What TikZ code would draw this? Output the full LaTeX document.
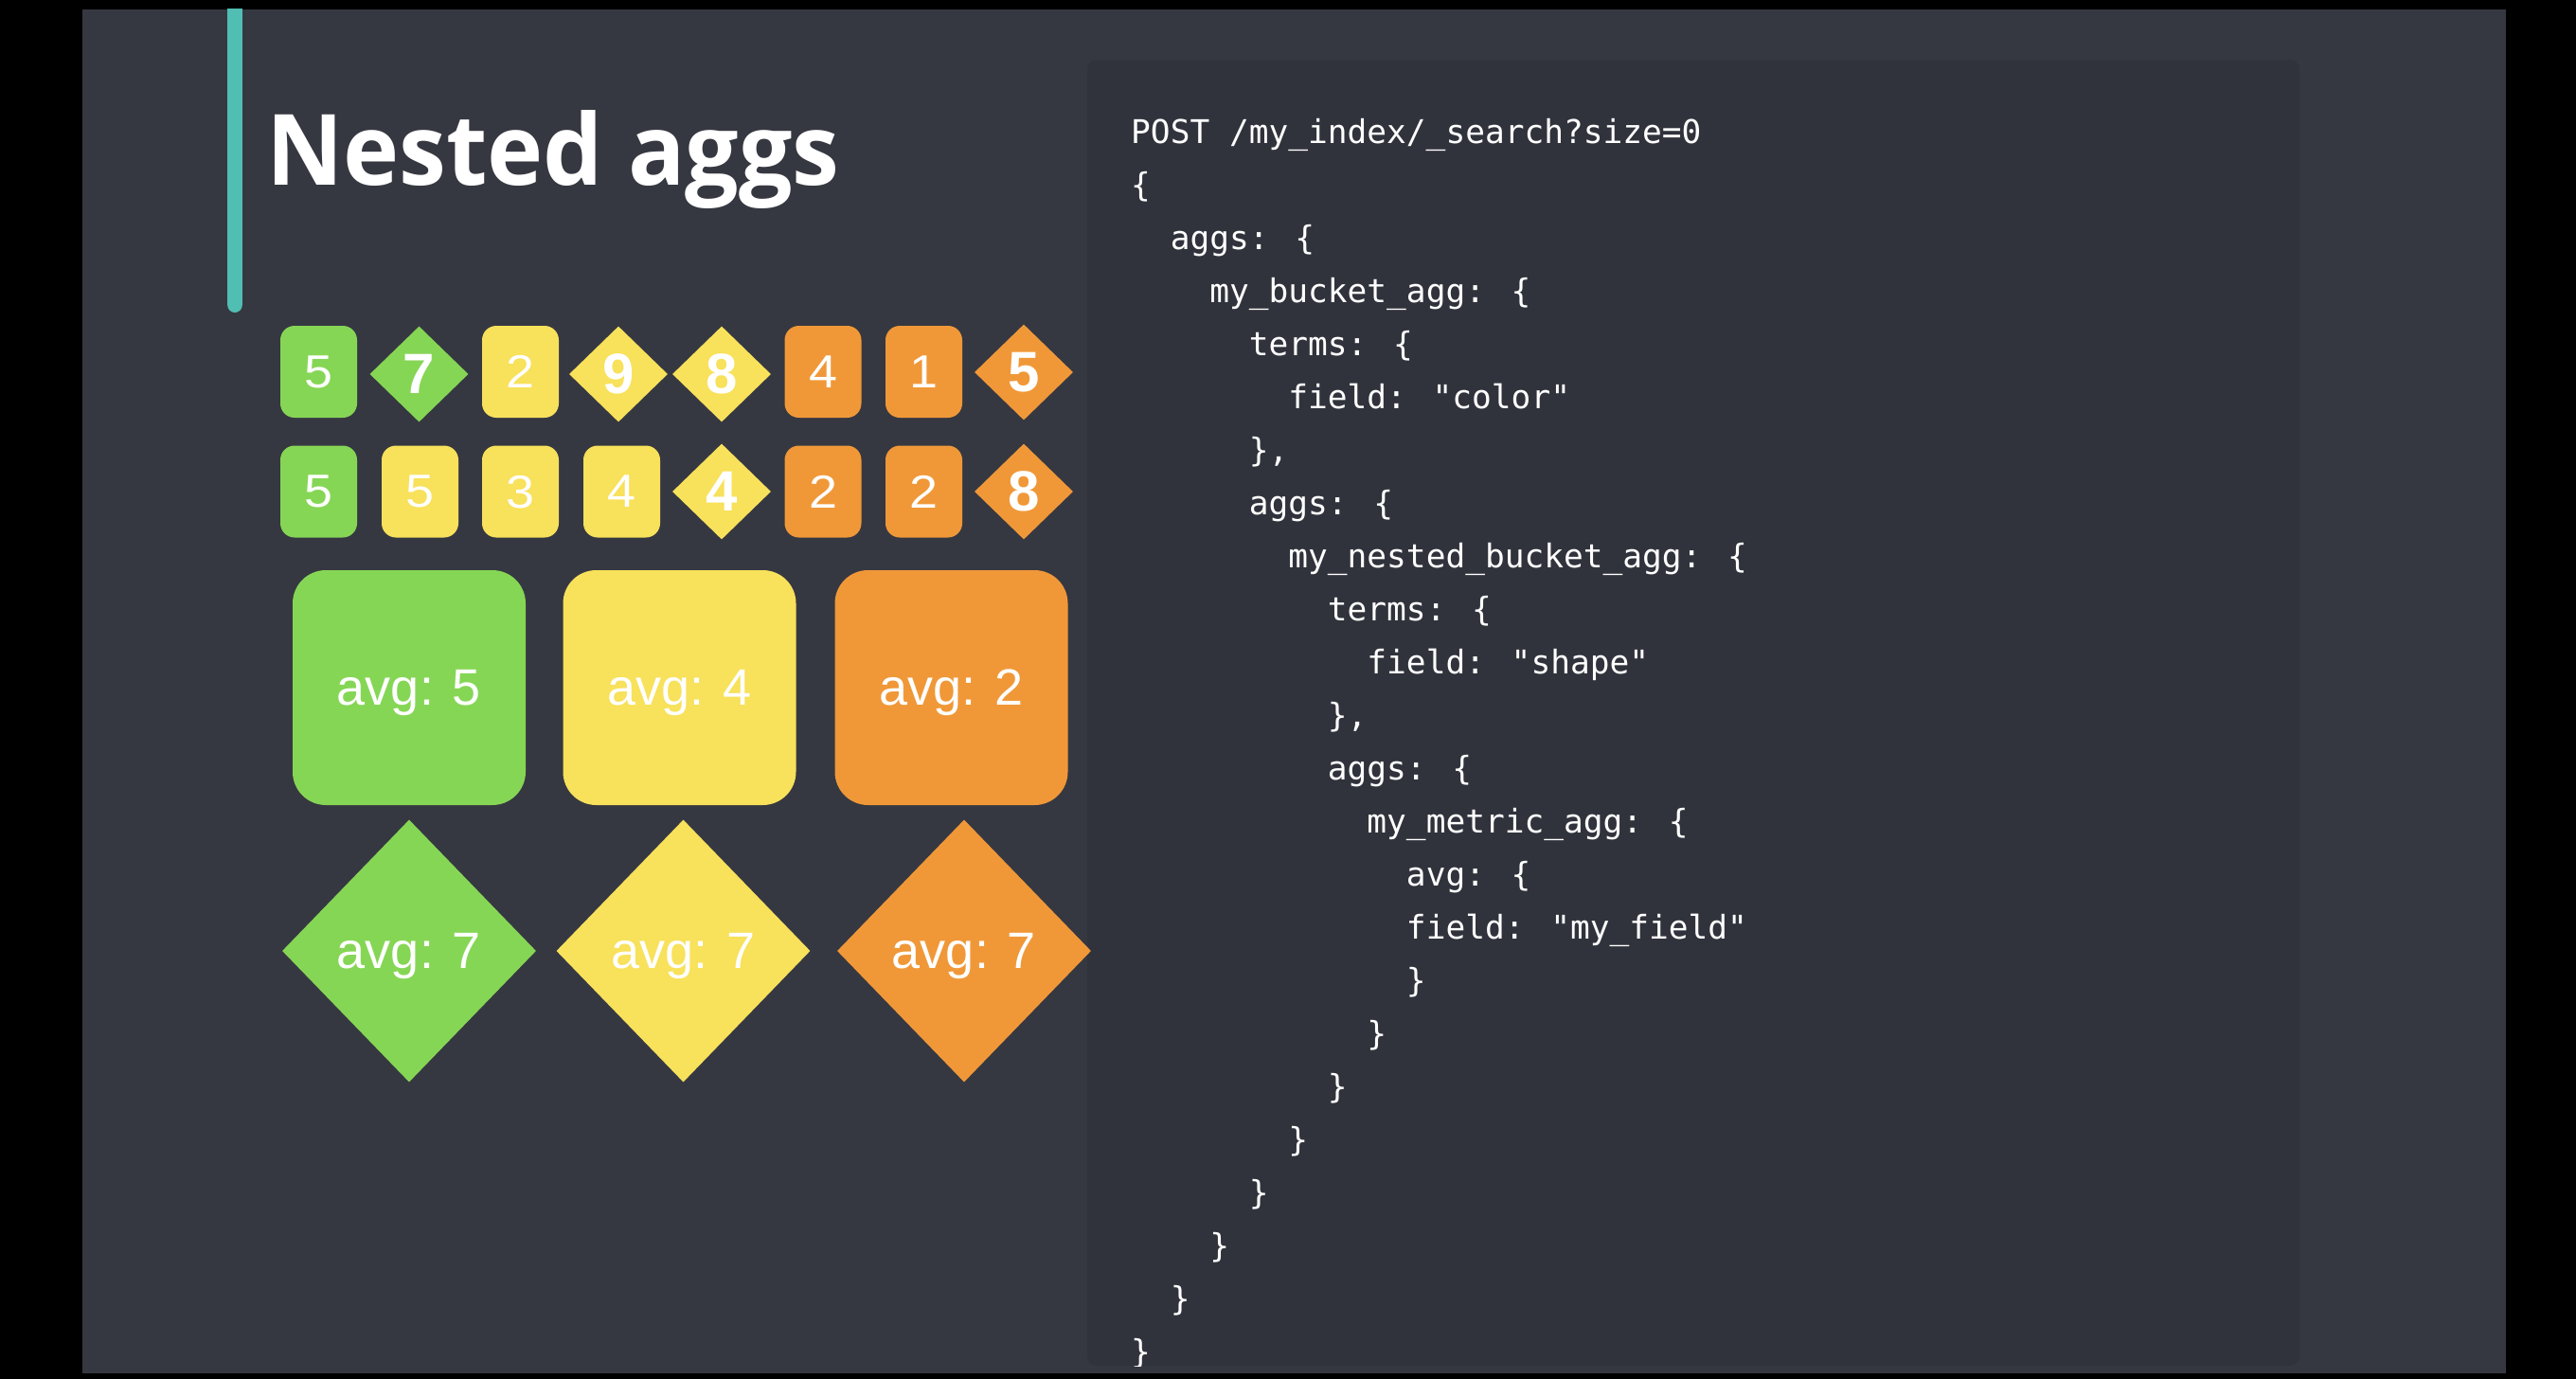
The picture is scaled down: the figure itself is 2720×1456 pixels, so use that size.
\documentclass[tikz,border=0pt]{standalone}
\usepackage{fontspec}
\usetikzlibrary{shapes.geometric}
\newfontfamily\titlefont{Open Sans}
\newfontfamily\helvfont{Liberation Sans}
\newfontfamily\codefont{DejaVu Sans Mono}
\definecolor{slidebg}{HTML}{363841}
\definecolor{codebg}{HTML}{31333C}
\definecolor{barteal}{HTML}{50BEB3}
\definecolor{gr}{HTML}{86D655}
\definecolor{ye}{HTML}{F8E15B}
\definecolor{orng}{HTML}{F09838}
\tikzset{
  sq/.style={rectangle, fill=#1, rounded corners=15pt, minimum width=81pt, minimum height=97pt,
    inner sep=0pt, text=white, text depth=0pt, font=\helvfont\fontsize{49}{49}\selectfont},
  dm/.style={diamond, fill=#1, minimum width=104pt, minimum height=101pt, inner sep=0pt,
    text=white, text depth=0pt, font=\helvfont\bfseries\fontsize{60}{60}\selectfont},
  bigsq/.style={rectangle, fill=#1, rounded corners=35pt, minimum width=246pt, minimum height=248pt,
    inner sep=0pt, text=white, text depth=0pt, font=\helvfont\fontsize{54}{54}\selectfont},
  bigdm/.style={diamond, fill=#1, minimum width=268pt, minimum height=277pt, inner sep=0pt,
    text=white, text depth=0pt, font=\helvfont\fontsize{54}{54}\selectfont},
  codeline/.style={anchor=base west, inner sep=0pt, text=white, font=\codefont\fontsize{34.5}{40}\selectfont},
}
\newcommand\mycl[3]{\node[codeline] (c#1) at ({1194+20.77*#2},{151.7+56*#1}) {#3};}
\newcommand\wdg[1]{\scalebox{1.1}[1]{#1}}
\begin{document}
\begin{tikzpicture}[x=1pt,y=-1pt]
\useasboundingbox (0,0) rectangle (2720,1456);
\fill[black] (0,0) rectangle (2720,1456);
\fill[slidebg] (86.5,9.5) rectangle (2646,1450);
\begin{scope}
  \clip (86.5,9.5) rectangle (2646,1450);
  \fill[barteal, rounded corners=7.8pt] (240.2,-30) rectangle (255.8,330);
\end{scope}
\fill[codebg, rounded corners=10pt] (1148,63) rectangle (2428,1442);

\node[anchor=base west, inner sep=0pt, text=white, font=\titlefont\bfseries\fontsize{104}{104}\selectfont] (title) at (281,195) {\scalebox{0.962}[1]{Nested aggs}};

% row 1
\node[sq=gr]   (a1) at (336.5,392.5) {\wdg{5}};
\node[dm=gr]   (a2) at (442.5,395) {7};
\node[sq=ye]   (a3) at (549.5,392.5) {\wdg{2}};
\node[dm=ye]   (a4) at (653,395) {9};
\node[dm=ye]   (a5) at (762,395) {8};
\node[sq=orng] (a6) at (869,392.5) {\wdg{4}};
\node[sq=orng] (a7) at (975.5,392.5) {\wdg{1}};
\node[dm=orng] (a8) at (1081,393) {5};
% row 2
\node[sq=gr]   (b1) at (336.5,519) {\wdg{5}};
\node[sq=ye]   (b2) at (443.5,519) {\wdg{5}};
\node[sq=ye]   (b3) at (549.5,519) {\wdg{3}};
\node[sq=ye]   (b4) at (656.5,519) {\wdg{4}};
\node[dm=ye]   (b5) at (762,519) {4};
\node[sq=orng] (b6) at (869,519) {\wdg{2}};
\node[sq=orng] (b7) at (975.5,519) {\wdg{2}};
\node[dm=orng] (b8) at (1081,519) {8};
% big squares
\node[bigsq=gr]   (g1) at (432,726) {avg: 5};
\node[bigsq=ye]   (g2) at (717.5,726) {avg: 4};
\node[bigsq=orng] (g3) at (1004.5,726) {avg: 2};
% big diamonds
\node[bigdm=gr]   (h1) at (432,1004) {avg: 7};
\node[bigdm=ye]   (h2) at (721.5,1004) {avg: 7};
\node[bigdm=orng] (h3) at (1018,1004) {avg: 7};

\begin{scope}
\clip (1148,63) rectangle (2428,1442);
\mycl{0}{0}{POST /my\_index/\_search?size=0}
\mycl{1}{0}{\{}
\mycl{2}{2}{aggs: \{}
\mycl{3}{4}{my\_bucket\_agg: \{}
\mycl{4}{6}{terms: \{}
\mycl{5}{8}{field: "color"}
\mycl{6}{6}{\},}
\mycl{7}{6}{aggs: \{}
\mycl{8}{8}{my\_nested\_bucket\_agg: \{}
\mycl{9}{10}{terms: \{}
\mycl{10}{12}{field: "shape"}
\mycl{11}{10}{\},}
\mycl{12}{10}{aggs: \{}
\mycl{13}{12}{my\_metric\_agg: \{}
\mycl{14}{14}{avg: \{}
\mycl{15}{14}{field: "my\_field"}
\mycl{16}{14}{\}}
\mycl{17}{12}{\}}
\mycl{18}{10}{\}}
\mycl{19}{8}{\}}
\mycl{20}{6}{\}}
\mycl{21}{4}{\}}
\mycl{22}{2}{\}}
\mycl{23}{0}{\}}
\end{scope}
\end{tikzpicture}
\end{document}
